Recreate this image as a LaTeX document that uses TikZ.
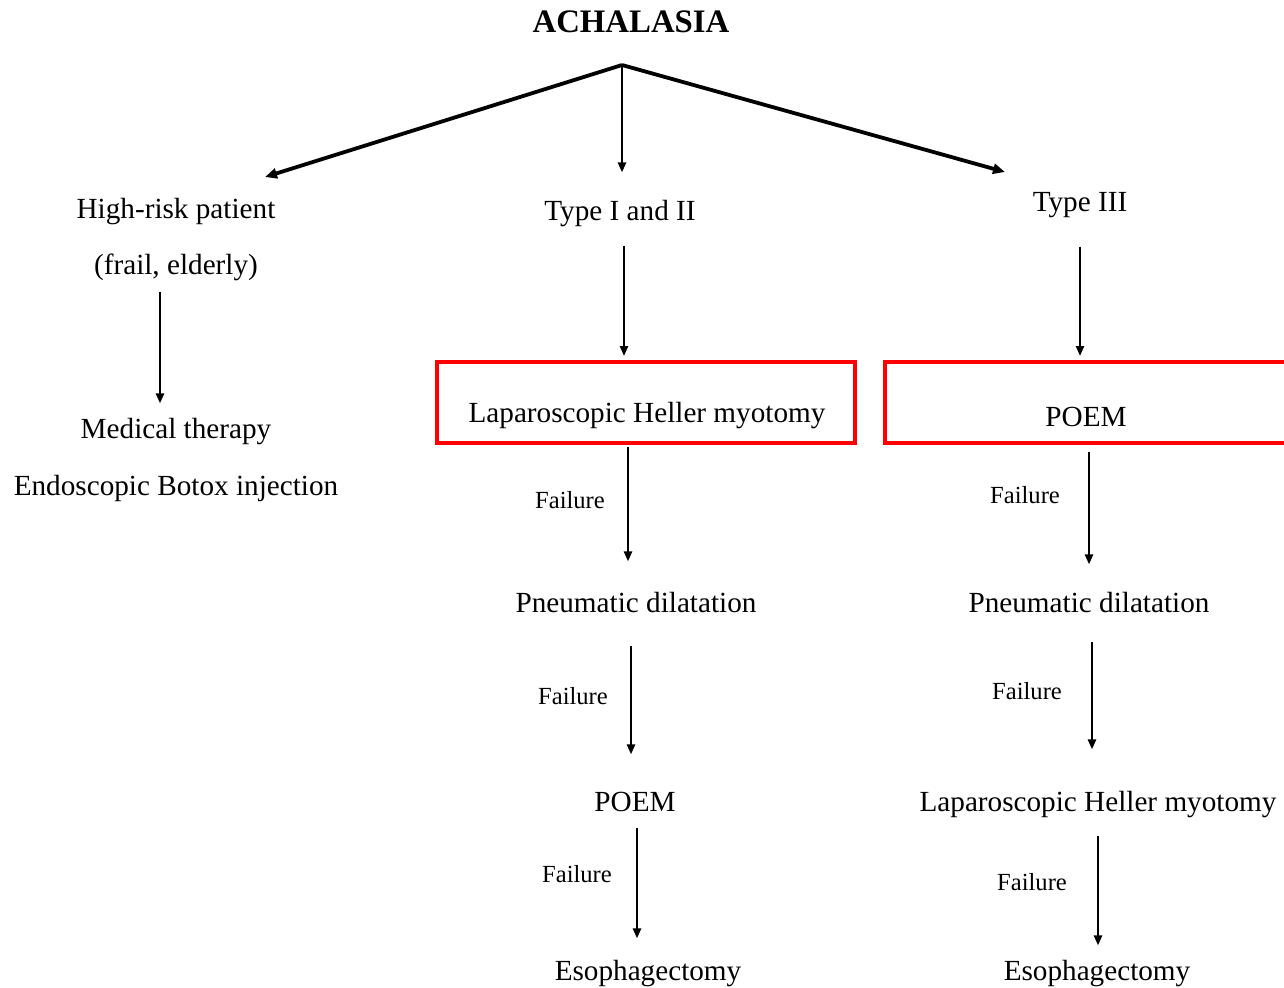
\documentclass[tikz,border=0pt]{standalone}
\usepackage{fontspec}
\setmainfont{Liberation Serif}
\usetikzlibrary{arrows.meta}
\begin{document}
\begin{tikzpicture}[x=0.5pt,y=-0.5pt,
  txt/.style={inner sep=0pt,text height=0.7em,text depth=0.22em,yshift=-2.75pt,font=\fontsize{14.6}{17}\selectfont},
  lbl/.style={inner sep=0pt,font=\fontsize{12.3}{14}\selectfont},
  title/.style={inner sep=0pt,font=\fontsize{16.4}{19}\selectfont\bfseries},
  redbox/.style={draw=red,line width=2pt,minimum width=209pt,minimum height=40.5pt,inner sep=0pt},
  arr/.style={line width=1.2pt,-{Triangle[length=5pt,width=4pt]}},
  thick arr/.style={line width=1.9pt,-{Triangle[length=6pt,width=5pt]}}
]
\clip (0,0) rectangle (1284,987);
\fill[white] (0,0) rectangle (1284,987);

% title and top split
\node[title] (ach) at (631,22) {ACHALASIA};
\coordinate (apex) at (622,65);
\coordinate (lend) at (265,177);
\coordinate (rend) at (1005,172);

% left column
\node[txt] (hr) at (176,208) {High-risk patient};
\node[txt] (frail) at (176,264) {(frail, elderly)};
\node[txt] (med) at (176,428) {Medical therapy};
\node[txt] (botox) at (176,485) {Endoscopic Botox injection};

% middle column
\node[txt] (t12) at (620,210) {Type I and II};
\node[redbox] (box1) at (646,402.5) {};
\node[txt] (lhm1) at (647,412) {Laparoscopic Heller myotomy};
\node[txt] (pd1) at (636,602) {Pneumatic dilatation};
\node[txt] (poem1) at (635,801) {POEM};
\node[txt] (eso1) at (648,970) {Esophagectomy};
\node[lbl] (f1) at (570,500) {Failure};
\node[lbl] (f2) at (573,696) {Failure};
\node[lbl] (f3) at (577,874) {Failure};

% right column
\node[txt] (t3) at (1080,201) {Type III};
\node[redbox,minimum width=207.5pt] (box2) at (1092.5,402.5) {};
\node[txt] (poem2) at (1086,416) {POEM};
\node[txt] (pd2) at (1089,602) {Pneumatic dilatation};
\node[txt] (lhm2) at (1098,801) {Laparoscopic Heller myotomy};
\node[txt] (eso2) at (1097,970) {Esophagectomy};
\node[lbl] (f4) at (1025,495) {Failure};
\node[lbl] (f5) at (1027,691) {Failure};
\node[lbl] (f6) at (1032,882) {Failure};

% connectors
\draw[thick arr] (apex) -- (lend);
\draw[thick arr] (apex) -- (rend);
\draw[arr,shorten >=16.75pt] (apex) -- (t12.north -| apex);

\draw[arr,shorten <=6.25pt,shorten >=10.25pt] (frail.south -| 160,0) -- (med.north -| 160,0);

\draw[arr,shorten <=10.25pt,shorten >=2pt] (t12.south -| 624,0) -- (box1.north -| 624,0);
\draw[arr,shorten <=15.25pt,shorten >=2pt] (t3.south -| 1080,0) -- (box2.north -| 1080,0);

\draw[arr,shorten <=1pt,shorten >=18.25pt] (box1.south -| 628,0) -- (pd1.north -| 628,0);
\draw[arr,shorten <=14.25pt,shorten >=21.25pt] (pd1.south -| 631,0) -- (poem1.north -| 631,0);
\draw[arr,shorten <=5.75pt,shorten >=13.75pt] (poem1.south -| 637,0) -- (eso1.north -| 637,0);

\draw[arr,shorten <=3.5pt,shorten >=16.75pt] (box2.south -| 1089,0) -- (pd2.north -| 1089,0);
\draw[arr,shorten <=12.25pt,shorten >=23.75pt] (pd2.south -| 1092,0) -- (lhm2.north -| 1092,0);
\draw[arr,shorten <=9.75pt,shorten >=10.25pt] (lhm2.south -| 1098,0) -- (eso2.north -| 1098,0);
\end{tikzpicture}
\end{document}
